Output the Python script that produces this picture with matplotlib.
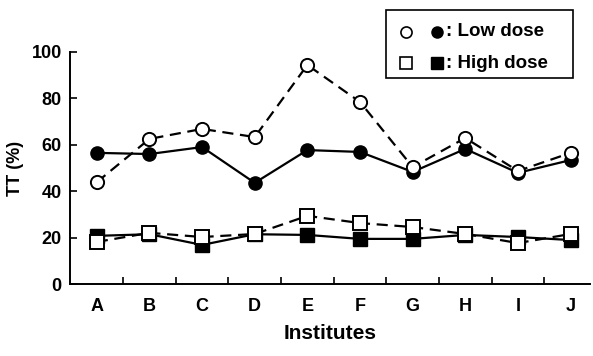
import matplotlib.pyplot as plt
from matplotlib.lines import Line2D
from matplotlib.patches import Rectangle

plt.rcParams['font.family'] = ['Liberation Sans', 'DejaVu Sans']
plt.rcParams['font.weight'] = 'bold'
plt.rcParams['axes.labelweight'] = 'bold'

institutes = ['A', 'B', 'C', 'D', 'E', 'F', 'G', 'H', 'I', 'J']
low_open = [44, 62.6, 66.9, 63.4, 94.4, 78.5, 50.5, 63, 48.8, 56.6]
low_filled = [56.6, 56.1, 59.1, 43.7, 57.8, 57, 48.4, 58.3, 48, 53.5]
high_open = [18.3, 22.2, 20.4, 21.7, 29.5, 26.4, 24.7, 21.7, 17.8, 21.7]
high_filled = [20.9, 21.6, 17, 21.6, 21.3, 19.6, 19.6, 21.3, 20.4, 19.1]

fig = plt.figure(figsize=(5.93, 3.56), dpi=100)
ax = fig.add_axes([0.118, 0.201, 0.877, 0.653])
x = list(range(len(institutes)))

# filled first, open on top
ax.plot(x, low_filled, '-', color='black', lw=1.6, marker='o', ms=9.5,
        mfc='black', mec='black')
ax.plot(x, high_filled, '-', color='black', lw=1.6, marker='s', ms=9.5,
        mfc='black', mec='black')
ax.plot(x, low_open, '--', color='black', lw=1.6, dashes=(5, 3), marker='o',
        ms=9.5, mfc='white', mec='black', mew=1.4)
ax.plot(x, high_open, '--', color='black', lw=1.6, dashes=(5, 3), marker='s',
        ms=10, mfc='white', mec='black', mew=1.4)

ax.set_xlim(-0.51, 9.37)
ax.set_ylim(0, 100)
ax.spines['top'].set_visible(False)
ax.spines['right'].set_visible(False)
ax.spines['left'].set_linewidth(1.4)
ax.spines['bottom'].set_linewidth(1.4)

ax.set_yticks([0, 20, 40, 60, 80, 100])
ax.tick_params(axis='y', direction='in', length=5, width=1.2, labelsize=13, pad=6)
ax.set_xticks([i + 0.5 for i in x[:-1]])
ax.set_xticklabels([])
ax.set_xticks(x, minor=True)
ax.set_xticklabels(institutes, minor=True)
ax.tick_params(axis='x', which='major', direction='in', length=5, width=1.2)
ax.tick_params(axis='x', which='minor', length=0, labelsize=13, pad=10)

ax.set_xlabel('Institutes', fontsize=15, labelpad=6)
ax.set_ylabel('TT (%)', fontsize=13)
ax.yaxis.set_label_coords(-0.088, 0.5)

# legend box drawn in figure pixels
W, H = 593, 356
def fx(px):
    return px / W
def fy(py):
    return 1 - py / H

fig.patches.append(Rectangle((fx(386), fy(78)), fx(573) - fx(386), fy(10) - fy(78),
                             transform=fig.transFigure, fill=False, lw=1.2,
                             edgecolor='black'))
for py, mk, label in [(32, 'o', ': Low dose'), (63, 's', ': High dose')]:
    fig.lines.append(Line2D([fx(406)], [fy(py)], marker=mk, ms=8, mfc='white',
                            mec='black', mew=1.2, transform=fig.transFigure))
    fig.lines.append(Line2D([fx(437)], [fy(py)], marker=mk, ms=8, mfc='black',
                            mec='black', transform=fig.transFigure))
    fig.text(fx(446), fy(py), label, fontsize=13.5, va='center', ha='left')

fig.savefig('out.png', dpi=100)
